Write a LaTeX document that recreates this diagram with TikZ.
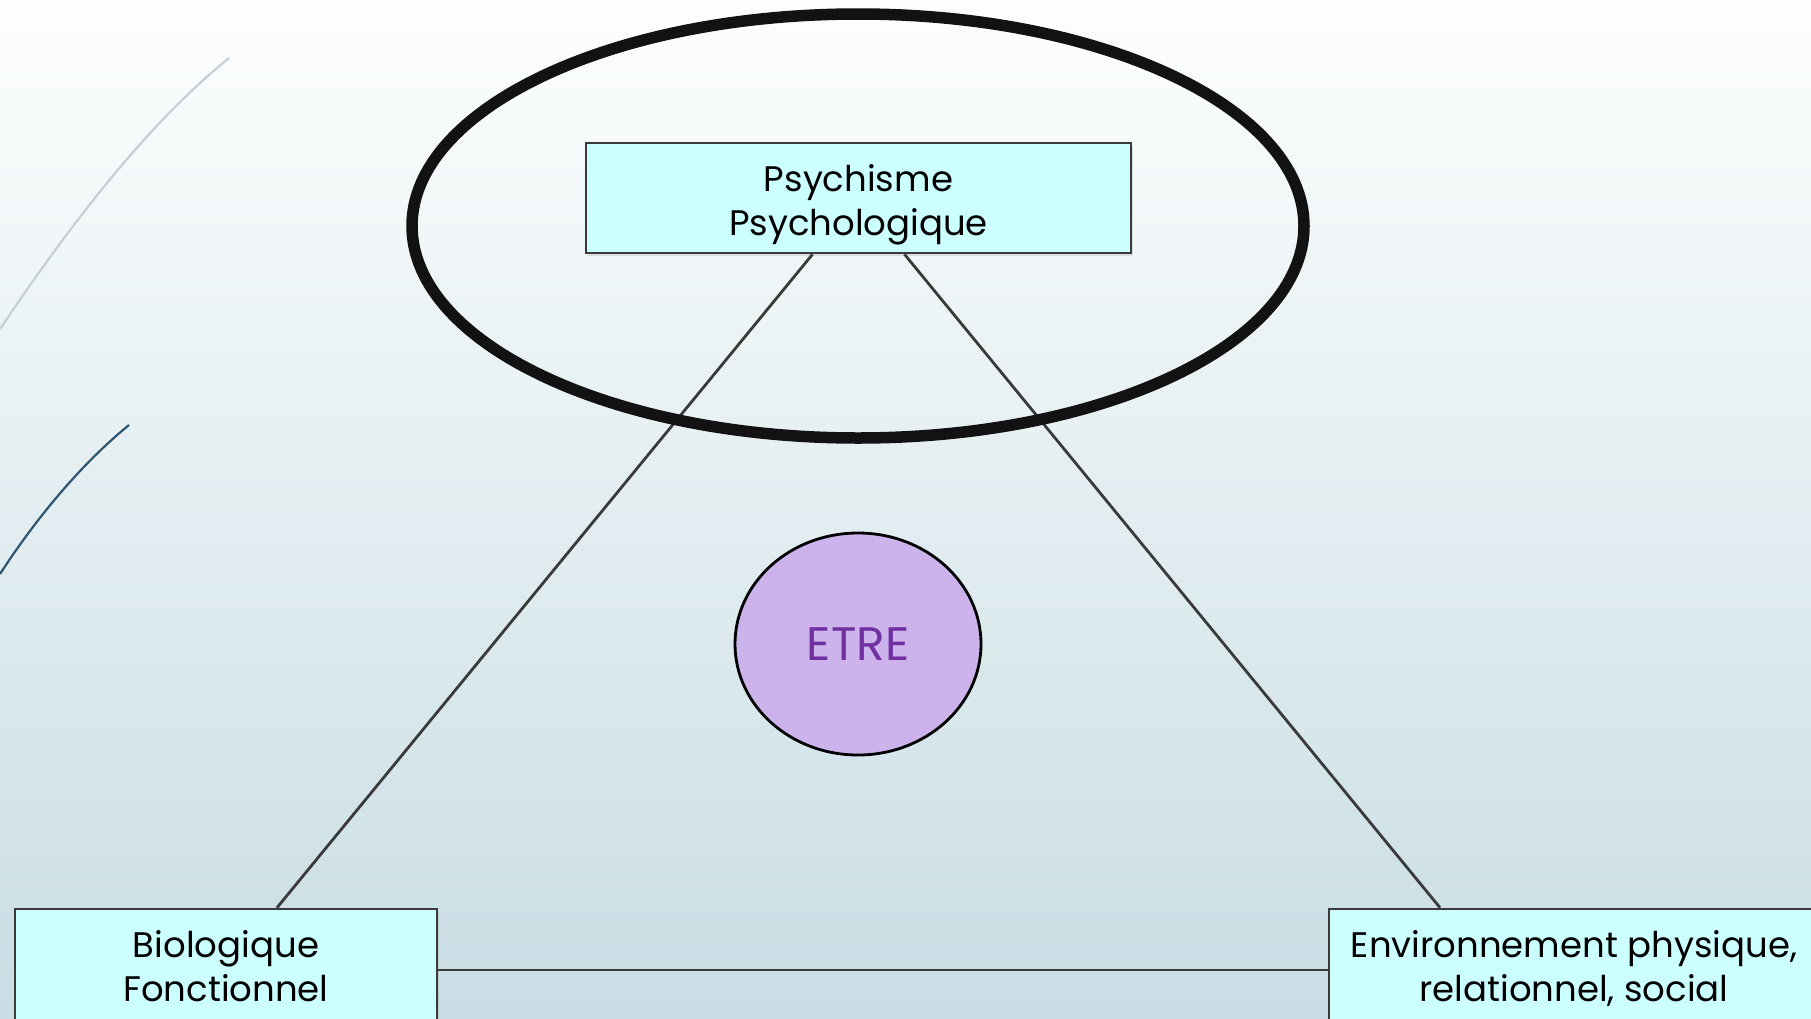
\documentclass[tikz,border=0pt]{standalone}
\usepackage{fontspec}
\setmainfont{Poppins}
\usetikzlibrary{shapes.geometric,calc,shadows}
\definecolor{bgtop}{HTML}{FDFEFE}
\definecolor{bgbot}{HTML}{C8DDE4}
\definecolor{boxfill}{HTML}{CCFFFF}
\definecolor{boxline}{HTML}{3A3A3A}
\definecolor{etrefill}{HTML}{CCB3EC}
\definecolor{etretext}{HTML}{7030A0}
\definecolor{arcgrey}{HTML}{C5CFD5}
\definecolor{arcblue}{HTML}{2E5670}
\tikzset{
  box/.style={draw=boxline, line width=2.6pt, fill=boxfill, rectangle, align=center, inner sep=0pt,
    font=\fontsize{35.5}{44}\selectfont,
    drop shadow={opacity=0.2, shadow xshift=2pt, shadow yshift=-3pt}},
  link/.style={draw=boxline, line width=2.8pt},
}
\begin{document}
\begin{tikzpicture}[x=1pt,y=-1pt]
\useasboundingbox (0,0) rectangle (1811,1018);
\shade[top color=bgtop, bottom color=bgbot] (0,0) rectangle (1811,1018);
% decorative arcs
\draw[arcgrey, line width=2.2pt] (229,58) .. controls (140,130) and (60,240) .. (0,329);
\draw[arcblue, line width=2.2pt] (129,425) .. controls (80,465) and (35,520) .. (0,574);
% nodes
\node[box, minimum width=545pt, minimum height=110pt] (psy) at (858.5,198) {\raisebox{-7pt}[\height][\depth]{\begin{tabular}{@{}c@{}}Psychisme\\Psychologique\end{tabular}}};
\node[box, minimum width=422pt, minimum height=112pt] (bio) at (226,965) {\raisebox{-6pt}[\height][\depth]{\begin{tabular}{@{}c@{}}Biologique\\Fonctionnel\end{tabular}}};
\node[box, minimum width=490pt, minimum height=112pt] (env) at (1574,965) {\raisebox{-6pt}[\height][\depth]{\begin{tabular}{@{}c@{}}Environnement physique,\\relationnel, social\end{tabular}}};
% connectors
\draw[link] ([xshift=-46pt]psy.south) -- ([xshift=51pt]bio.north);
\draw[link] ([xshift=46pt]psy.south) -- ([xshift=-134pt]env.north);
\draw[link] ([yshift=-5pt]bio.east) -- ([yshift=-5pt]env.west);
% big ellipse
\node[ellipse, draw=black!93, line width=11.5pt, minimum width=892pt, minimum height=424pt, inner sep=0pt] (ring) at (858,226) {};
% etre
\node[ellipse, draw=black, line width=2.8pt, fill=etrefill, minimum width=246pt, minimum height=222pt, inner sep=0pt,
  text=etretext, font=\fontsize{47}{52}\selectfont] (etre) at (858,644) {ETRE};
\end{tikzpicture}
\end{document}
